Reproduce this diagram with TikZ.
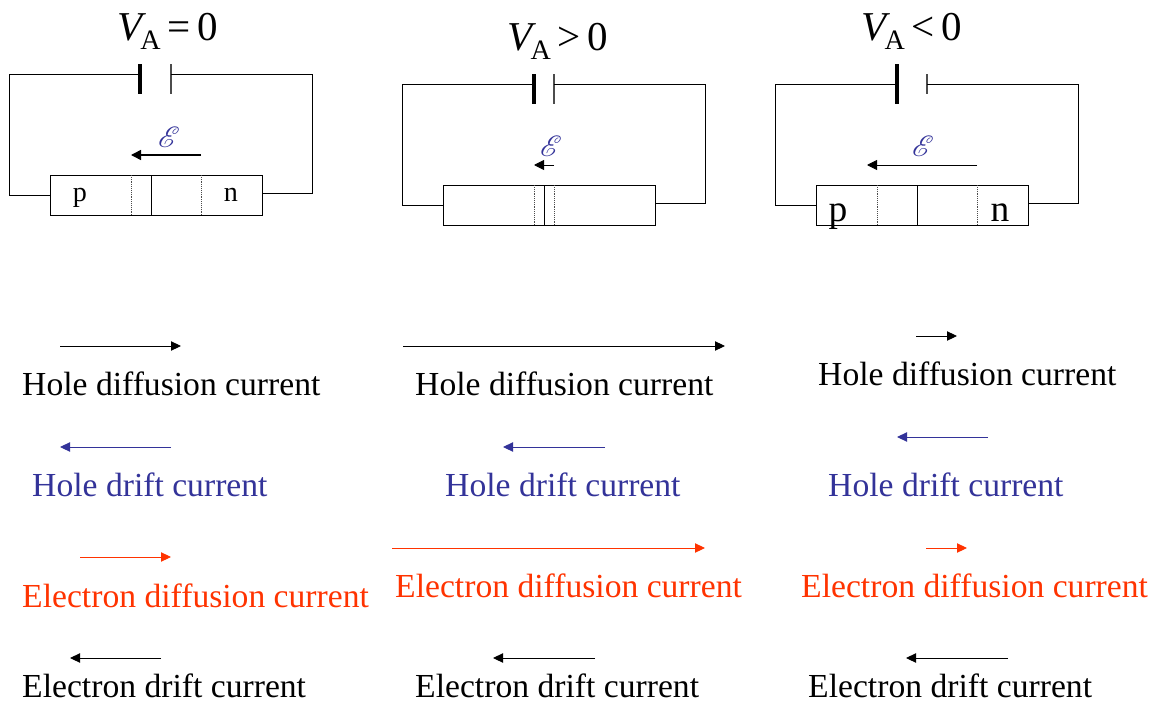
\documentclass[tikz,border=0pt]{standalone}
\usepackage{fontspec}
\usepackage{mathrsfs}
\usepackage{graphicx}
\setmainfont{Liberation Serif}
\usepackage{tikz}
\usetikzlibrary{arrows.meta}
\definecolor{FieldBlue}{HTML}{333399}
\definecolor{ElectronRed}{HTML}{FF3300}
\tikzset{
    wire/.style={draw=black, line width=0.8pt},
    junction/.style={draw=black, line width=0.8pt},
    depletion/.style={draw=black!70, line width=0.6pt, densely dotted},
    device/.style={draw=black, line width=0.8pt, fill=white, inner sep=0pt, minimum width=212*0.03cm, minimum height=40*0.03cm},
    thickplate/.style={fill=black, inner sep=0pt, minimum width=3.2*0.03cm},
    thinplate/.style={fill=black!70, inner sep=0pt, minimum width=1.4*0.03cm},
    biaslabel/.style={inner sep=0pt, font=\fontsize{35}{38}\selectfont},
    fieldlabel/.style={inner sep=0pt, text=FieldBlue},
    sidelabel/.style={inner sep=0pt, anchor=base, font=\fontsize{24}{28}\selectfont},
    currentlabel/.style={inner sep=0pt, anchor=base west, font=\fontsize{28.7}{32}\selectfont},
    currentarrow/.style={-{Triangle[length=3mm, width=2.8mm]}, line width=0.8pt},
    fieldarrow/.style={-{Triangle[length=3mm, width=3mm]}, draw=black}
}
\newcommand{\biastext}[1]{{\itshape V}\kern-0.06em\raisebox{-0.22em}{\fontsize{24}{26}\selectfont A}\,#1\,0}
\newcommand{\fieldtext}{\scalebox{2.5}{$\mathscr{E}$}}
\begin{document}
\begin{tikzpicture}[x=0.03cm, y=-0.03cm]
\useasboundingbox (0,0) rectangle (1157,702);

% zero bias
\node[biaslabel] (bias1) at (168,31) {\biastext{=}};
\node[device] (dev1) at (156,195) {};
\node[thickplate, minimum height=30*0.03cm] (plus1) at (140,79) {};
\node[thinplate, minimum height=30*0.03cm] (minus1) at (171,79) {};
\coordinate (tapL1) at (140,74);
\coordinate (tapR1) at (171,74);
\coordinate (right1) at (262,193);
\draw[wire] (dev1.west) -- ++(-40,0) |- (tapL1);
\draw[wire] (right1) -- ++(50,0) |- (tapR1);
\draw[junction] (151,175) -- (151,215);
\draw[depletion] (131,175) -- (131,215);
\draw[depletion] (201,175) -- (201,215);
\node[fieldlabel] (field1) at (169,137) {\fieldtext};
\coordinate (fieldA1) at (201,155);
\coordinate (fieldB1) at (131,155);
\draw[fieldarrow, line width=1.3pt] (fieldA1) -- (fieldB1);
\node[sidelabel] (p1) at (80,201) {p};
\node[sidelabel] (n1) at (231,201) {n};

% forward bias
\node[biaslabel] (bias2) at (558,41) {\biastext{>}};
\node[device] (dev2) at (549,205) {};
\node[thickplate, minimum height=30*0.03cm] (plus2) at (534,89) {};
\node[thinplate, minimum height=30*0.03cm] (minus2) at (554,89) {};
\coordinate (tapL2) at (534,84);
\coordinate (tapR2) at (554,84);
\coordinate (right2) at (655,203);
\draw[wire] (dev2.west) -- ++(-40,0) |- (tapL2);
\draw[wire] (right2) -- ++(50,0) |- (tapR2);
\draw[junction] (544,185) -- (544,225);
\draw[depletion] (534,185) -- (534,225);
\draw[depletion] (554,185) -- (554,225);
\node[fieldlabel] (field2) at (551,146) {\fieldtext};
\coordinate (fieldA2) at (554,165);
\coordinate (fieldB2) at (534,165);
\draw[fieldarrow, line width=0.8pt] (fieldA2) -- (fieldB2);

% reverse bias
\node[biaslabel] (bias3) at (912,31) {\biastext{<}};
\node[device] (dev3) at (922,205) {};
\node[thickplate, minimum height=40*0.03cm] (plus3) at (897,84) {};
\node[thinplate, minimum height=20*0.03cm] (minus3) at (927,84) {};
\coordinate (right3) at (1028,203);
\draw[wire] (dev3.west) -- ++(-40,0) |- (plus3.center);
\draw[wire] (right3) -- ++(50,0) |- (minus3.center);
\draw[junction] (917,185) -- (917,225);
\draw[depletion] (877,185) -- (877,225);
\draw[depletion] (977,185) -- (977,225);
\node[fieldlabel] (field3) at (923,146) {\fieldtext};
\coordinate (fieldA3) at (977,165);
\coordinate (fieldB3) at (867,165);
\draw[fieldarrow, line width=0.7pt] (fieldA3) -- (fieldB3);
\node[sidelabel, font=\fontsize{32}{34}\selectfont] (p3) at (838,221) {p};
\node[sidelabel, font=\fontsize{32}{34}\selectfont] (n3) at (1000,221) {n};

% current labels
\foreach \name/\xx/\yy/\col/\txt in {
    holediff1/22/395/black/Hole diffusion current,
    holediff2/415/395/black/Hole diffusion current,
    holediff3/818/385/black/Hole diffusion current,
    holedrift1/32/496/FieldBlue/Hole drift current,
    holedrift2/445/496/FieldBlue/Hole drift current,
    holedrift3/828/496/FieldBlue/Hole drift current,
    elecdiff1/22/607/ElectronRed/Electron diffusion current,
    elecdiff2/395/597/ElectronRed/Electron diffusion current,
    elecdiff3/801/597/ElectronRed/Electron diffusion current,
    elecdrift1/22/697/black/Electron drift current,
    elecdrift2/415/697/black/Electron drift current,
    elecdrift3/808/697/black/Electron drift current}
    \node[currentlabel, text=\col] (\name) at (\xx,\yy) {\txt};

% current arrows
\foreach \name/\xa/\xb/\yy/\col in {
    hd1/60/181/346/black, hd2/403/725/346/black, hd3/916/957/336/black,
    hr1/171/60/447/FieldBlue, hr2/605/503/447/FieldBlue, hr3/988/897/437/FieldBlue,
    ed1/80/171/557/ElectronRed, ed2/392/705/548/ElectronRed, ed3/926/967/548/ElectronRed,
    er1/161/70/658/black, er2/595/493/658/black, er3/1008/906/658/black}
{
    \coordinate (\name a) at (\xa,\yy);
    \coordinate (\name b) at (\xb,\yy);
    \draw[currentarrow, \col] (\name a) -- (\name b);
}
\end{tikzpicture}
\end{document}
